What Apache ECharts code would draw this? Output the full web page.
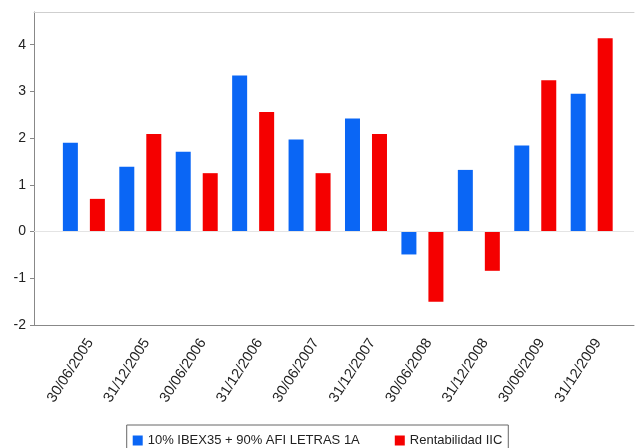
<!DOCTYPE html>
<html>
<head>
<meta charset="utf-8">
<script src="https://cdn.jsdelivr.net/npm/echarts@6/dist/echarts.min.js"></script>
<style>
  html, body { margin: 0; padding: 0; background: #fff; }
  #chart { width: 635px; height: 448px; }
</style>
</head>
<body>
<div id="chart"></div>
<script>
// Half-year returns (%), benchmark vs. fund
const categories = ['30/06/2005', '31/12/2005', '30/06/2006', '31/12/2006', '30/06/2007',
                    '31/12/2007', '30/06/2008', '31/12/2008', '30/06/2009', '31/12/2009'];
const benchmarkName = '10% IBEX35 + 90% AFI LETRAS 1A';
const fundName = 'Rentabilidad IIC';
const benchmark = [1.90, 1.39, 1.71, 3.34, 1.97, 2.42, -0.49, 1.32, 1.84, 2.95];
const fund      = [0.70, 2.09, 1.25, 2.56, 1.25, 2.09, -1.50, -0.84, 3.24, 4.14];
const yTicks = [-2, -1, 0, 1, 2, 3, 4];

// Category slots on a numeric axis so the plot frame can extend past the outer slots
const slotMin = -0.884;
const slotMax = 9.75;
const slotIndex = categories.map((_, i) => i);

const font = 'Arial, "Liberation Sans", sans-serif';
const chart = echarts.init(document.getElementById('chart'), null, { renderer: 'canvas' });

chart.setOption({
  animation: false,
  backgroundColor: '#ffffff',
  grid: { left: 34, right: 1, top: 12, bottom: 123 },
  legend: {
    top: 425,
    left: 'center',
    icon: 'rect',
    itemWidth: 10,
    itemHeight: 10,
    itemGap: 35,
    padding: [9, 6, 10, 6],
    borderColor: '#666666',
    borderWidth: 1,
    textStyle: { fontFamily: font, fontSize: 13, color: '#222222' },
    data: [benchmarkName, fundName]
  },
  xAxis: [
    {
      type: 'value',
      min: slotMin,
      max: slotMax,
      position: 'bottom',
      axisLine: { onZero: false, lineStyle: { color: '#888888', width: 1 } },
      axisTick: { show: false },
      splitLine: { show: false },
      axisLabel: {
        customValues: slotIndex,
        formatter: v => categories[Math.round(v)],
        rotate: 57,
        margin: 11,
        verticalAlign: 'top',
        fontFamily: font,
        fontSize: 14.5,
        color: '#222222'
      }
    },
    {
      // top frame line of the plot area
      type: 'value',
      min: slotMin,
      max: slotMax,
      position: 'top',
      axisLine: { onZero: false, lineStyle: { color: '#cfcfcf', width: 1 } },
      axisTick: { show: false },
      axisLabel: { show: false },
      splitLine: { show: false }
    }
  ],
  yAxis: {
    type: 'value',
    min: -2,
    max: 4.7,
    interval: 1,
    axisLine: { show: true, onZero: false, lineStyle: { color: '#888888', width: 1 } },
    axisTick: { show: true, length: 4, customValues: yTicks, lineStyle: { color: '#888888' } },
    splitLine: { show: false },
    axisLabel: {
      customValues: yTicks,
      margin: 8,
      fontFamily: font,
      fontSize: 14,
      color: '#222222'
    }
  },
  series: [
    {
      name: benchmarkName,
      type: 'bar',
      barWidth: 15,
      barGap: '80%',
      itemStyle: { color: '#0a66f5' },
      data: benchmark.map((v, i) => [i, v]),
      markLine: {
        silent: true,
        symbol: 'none',
        label: { show: false },
        lineStyle: { color: '#e4e4e4', width: 1, type: 'solid' },
        data: [{ yAxis: 0 }]
      }
    },
    {
      name: fundName,
      type: 'bar',
      barWidth: 15,
      barGap: '80%',
      itemStyle: { color: '#f50000' },
      data: fund.map((v, i) => [i, v])
    }
  ]
});
</script>
</body>
</html>
